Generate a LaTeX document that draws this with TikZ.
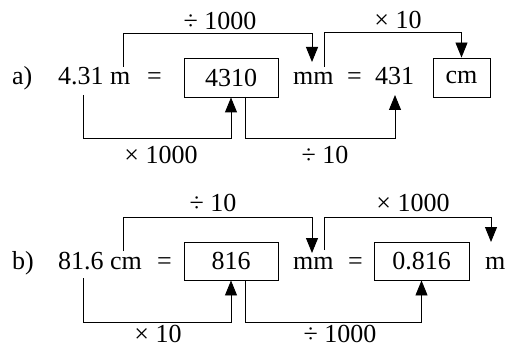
\documentclass[tikz,border=0pt]{standalone}
\usepackage{fontspec}
\setmainfont{Liberation Serif}
\usetikzlibrary{arrows.meta}
\begin{document}
\begin{tikzpicture}[x=1pt,y=-1pt,
  txt/.style={anchor=base west,inner sep=0pt,font=\fontsize{26}{30}\selectfont},
  lbl/.style={anchor=center,inner sep=0pt,font=\fontsize{26}{30}\selectfont},
  bx/.style={draw,line width=0.9pt,inner sep=0pt,font=\fontsize{26}{30}\selectfont},
  conn/.style={line width=0.9pt},
  arr/.style={line width=0.9pt,-{Triangle[length=15pt,width=12pt]}}]
\useasboundingbox (0,0) rectangle (505,347);
% row a
\node[txt] (la) at (12,85) {a)};
\node[txt] (a1) at (58,85) {4.31 m};
\node[txt] (aeq1) at (147,85) {=};
\node[bx,minimum width=94pt,minimum height=39pt] (ab1) at (231,77.5) {4310};
\node[txt] (amm) at (293,85) {mm};
\node[txt] (aeq2) at (347,85) {=};
\node[txt] (a431) at (375,85) {431};
\node[bx,minimum width=57pt,minimum height=39pt] (ab2) at (461.5,77.5) {cm};
\node[lbl] (al1) at (220,21) {÷ 1000};
\node[lbl] (al2) at (398,20) {× 10};
\node[lbl] (al3) at (161,155) {× 1000};
\node[lbl] (al4) at (325,155) {÷ 10};
\coordinate (as1) at (123,67);
\coordinate (at1) at (312,62);
\coordinate (as2) at (324,67);
\coordinate (as3) at (83,95);
\coordinate (as4) at (245,97);
\coordinate (at4) at (395,95);
\draw[arr] (as1) -- (123,33) -| (at1);
\draw[arr] (as2) -- (324,32) -| (ab2.north);
\draw[arr] (as3) -- (83,138) -| (ab1.south);
\draw[arr] (as4) -- (245,138) -| (at4);
% row b
\node[txt] (lb) at (12,269) {b)};
\node[txt] (b1) at (58,269) {81.6 cm};
\node[txt] (beq1) at (157,269) {=};
\node[bx,minimum width=94pt,minimum height=38pt] (bb1) at (231,261) {816};
\node[txt] (bmm) at (293,269) {mm};
\node[txt] (beq2) at (348,269) {=};
\node[bx,minimum width=95pt,minimum height=38pt] (bb2) at (421.5,261) {0.816};
\node[txt] (bm) at (485,269) {m};
\node[lbl] (bl1) at (213,203) {÷ 10};
\node[lbl] (bl2) at (413,203) {× 1000};
\node[lbl] (bl3) at (158,334) {× 10};
\node[lbl] (bl4) at (340,334) {÷ 1000};
\coordinate (bs1) at (123,251);
\coordinate (bt1) at (312,253);
\coordinate (bs2) at (324,250);
\coordinate (bt2) at (491,242);
\coordinate (bs3) at (83,278);
\coordinate (bs4) at (245,280);
\draw[arr] (bs1) -- (123,217) -| (bt1);
\draw[arr] (bs2) -- (324,217) -| (bt2);
\draw[arr] (bs3) -- (83,322) -| (bb1.south);
\draw[arr] (bs4) -- (245,322) -| (bb2.south);
\end{tikzpicture}
\end{document}
